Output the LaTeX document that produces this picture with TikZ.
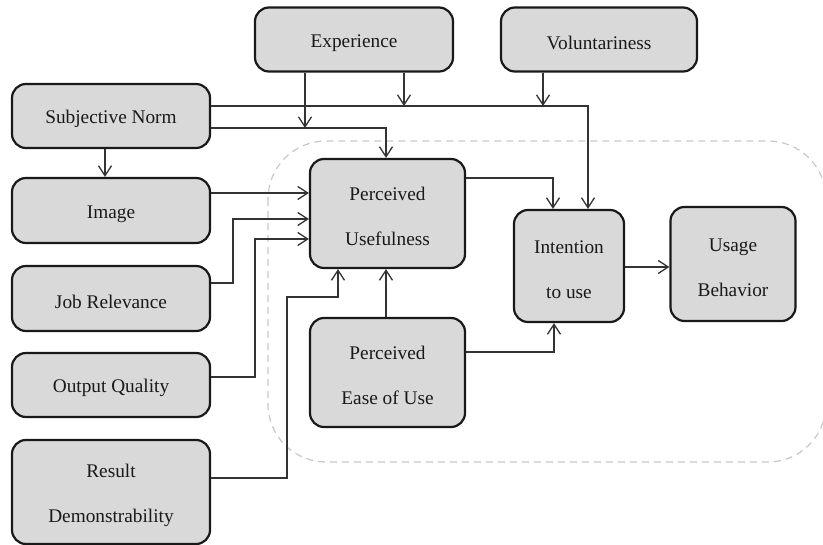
\documentclass[tikz,border=0pt]{standalone}
\usepackage{fontspec}
\setmainfont{Liberation Serif}
\usetikzlibrary{arrows.meta}
\definecolor{boxfill}{HTML}{D9D9D9}
\definecolor{linec}{HTML}{333333}
\definecolor{dashc}{HTML}{C8C8C8}
\newcommand\tsp{\rule{0pt}{19.5pt}}
\tikzset{
  box/.style={draw=black!90, line width=2.2pt, fill=boxfill, rounded corners=14pt,
    align=center, inner sep=0pt, font=\fontsize{19.3}{45}\selectfont, text=black!90},
  arr/.style={draw=linec, line width=1.3pt, -{Straight Barb[length=10pt,width=13pt,line width=1.3pt]}},
}
\begin{document}
\begin{tikzpicture}[x=1pt,y=-1pt]
\useasboundingbox (0,0) rectangle (823,545);
% dashed group
\draw[dashc, line width=1.2pt, dash pattern=on 7pt off 5pt, rounded corners=58pt] (268,141) rectangle (826,462);
% nodes
\node[box, minimum width=198pt, minimum height=64pt] (exp) at (354,39.5) {\tsp Experience};
\node[box, minimum width=196pt, minimum height=64pt] (vol) at (599,39.5) {\tsp Voluntariness};
\node[box, minimum width=198pt, minimum height=64pt] (sn) at (111,116) {\tsp Subjective Norm};
\node[box, minimum width=198pt, minimum height=65pt] (img) at (111,210.5) {\tsp Image};
\node[box, minimum width=198pt, minimum height=65pt] (jr) at (111,298.5) {\tsp Job Relevance};
\node[box, minimum width=198pt, minimum height=64pt] (oq) at (111,385) {\tsp Output Quality};
\node[box, minimum width=198pt, minimum height=104pt] (rd) at (111,492) {\tsp Result\\Demonstrability};
\node[box, minimum width=155pt, minimum height=109pt] (pu) at (387.5,213.5) {\tsp Perceived\\Usefulness};
\node[box, minimum width=155pt, minimum height=109pt] (peou) at (387.5,372.5) {\tsp Perceived\\Ease of Use};
\node[box, minimum width=110pt, minimum height=112pt] (itu) at (569,266) {\tsp Intention\\to use};
\node[box, minimum width=125pt, minimum height=114pt] (ub) at (733,264) {\tsp Usage\\Behavior};
% junction points on lines
\coordinate (j1) at (305,128);
\coordinate (j2) at (404,106);
\coordinate (j3) at (543,106);
% Subjective norm connectors
\draw[arr] (sn.south -| 105,0) -- (img.north -| 105,0);
\draw[arr] (sn.east |- 0,106) -| (itu.north -| 588,0);
\draw[arr] (sn.east |- 0,128) -| (pu.north -| 386,0);
% Experience and voluntariness
\draw[arr] (exp.south -| j1) -- (j1);
\draw[arr] (exp.south -| j2) -- (j2);
\draw[arr] (vol.south -| j3) -- (j3);
% left inputs to PU
\draw[arr] (img.east |- 0,193) -- (pu.west |- 0,193);
\draw[arr] (jr.east |- 0,283) -| (233,219) -- (pu.west |- 0,219);
\draw[arr] (oq.east |- 0,377) -| (255,239) -- (pu.west |- 0,239);
\draw[arr] (rd.east |- 0,478) -| (287,297) -| (pu.south -| 338,0);
% core
\draw[arr] (peou.north -| 386,0) -- (pu.south -| 386,0);
\draw[arr] (pu.east |- 0,178) -| (itu.north -| 553,0);
\draw[arr] (peou.east |- 0,352) -| (itu.south -| 554,0);
\draw[arr] (itu.east |- 0,267) -- (ub.west |- 0,267);
\end{tikzpicture}
\end{document}
